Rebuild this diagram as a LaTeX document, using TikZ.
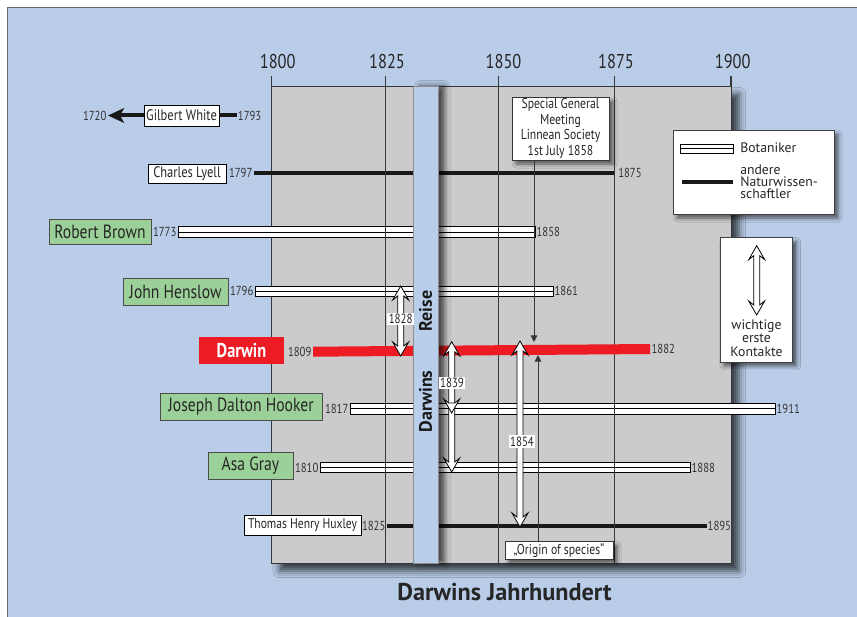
\documentclass[tikz,border=0pt]{standalone}
\usepackage{fontspec}
\setmainfont{PT Sans}
\newfontfamily\cf[FakeStretch=0.82]{PT Sans}
\usetikzlibrary{arrows.meta,shadows.blur}
\definecolor{bgblue}{RGB}{185,205,233}
\definecolor{boxgray}{RGB}{203,202,204}
\definecolor{namegreen}{RGB}{155,208,152}
\definecolor{dred}{RGB}{237,28,36}
\definecolor{reiseblue}{RGB}{184,206,234}
\definecolor{linegray}{RGB}{55,55,55}
\definecolor{framegray}{RGB}{105,105,105}
\newcommand\hollowarrow[3]{%
  \draw[harrow] (#1,#2) -- ++(8,14) -- ++(-5,-4) -- (#1+3,#3-10) -- ++(5,-4) -- (#1,#3)
    -- ++(-8,-14) -- ++(5,4) -- (#1-3,#2+10) -- ++(-5,4) -- cycle;}
\newcommand\downhead[2]{%
  \draw[harrow] (#1,#2) -- ++(8,-14) -- ++(-5,4) -- ++(-6,0) -- ++(-5,-4) -- cycle;}
\begin{document}
\begin{tikzpicture}[x=0.75pt,y=-0.75pt,
  tick/.style={draw=linegray, line width=0.8pt},
  ticklabel/.style={font=\cf\fontsize{15}{15}\selectfont, text=black!85, inner sep=0pt},
  yr/.style={font=\cf\fontsize{9.8}{10}\selectfont, text=black!80, inner sep=1pt},
  namebox/.style={draw=black!70, line width=0.6pt, fill=namegreen, inner sep=0pt,
    font=\cf\fontsize{14.3}{15}\selectfont, text=black!85},
  wbox/.style={draw=black, line width=0.6pt, fill=white, inner sep=0pt,
    font=\cf\fontsize{11.4}{12}\selectfont, text=black!85},
  botbar/.style={draw=black, line width=0.6pt, fill=white},
  blackbar/.style={draw=black!90, line width=3.4pt},
  harrow/.style={draw=black, line width=0.6pt, fill=white, line join=miter},
  arrlabel/.style={fill=white, inner sep=1pt, font=\cf\fontsize{10}{10}\selectfont, text=black!85},
  note/.style={draw=linegray, line width=0.6pt, fill=white, inner sep=0pt,
    blur shadow={shadow xshift=3pt, shadow yshift=-3pt, shadow blur radius=3pt, shadow opacity=60}},
  thinarrow/.style={draw=linegray, line width=0.7pt, -{Triangle[length=5pt,width=5pt]}},
  gridline/.style={draw=linegray, line width=0.7pt}]
\useasboundingbox (0,0) rectangle (857,617);
\fill[white] (0,0) rectangle (857,617);
\fill[bgblue] (7,7) rectangle (857,617);
\draw[framegray, line width=1.1pt] (7.5,617) -- (7.5,7.5) -- (857,7.5);

% axis labels and short ticks
\foreach \x/\lx/\yr in {271.5/277.7/1800, 385.5/387/1825, 498.5/503.5/1850, 614.5/616/1875, 731/732.7/1900}{
  \node[ticklabel] (t\yr) at (\lx,62) {\yr};
  \draw[tick] (\x,76) -- (\x,86);
}

% grey field
\fill[boxgray, draw=linegray, line width=0.7pt,
  blur shadow={shadow xshift=6pt, shadow yshift=-6pt, shadow blur radius=5pt, shadow opacity=70}]
  (271.5,86) rectangle (731,563);

% ---- bars ----
% Gilbert White
\node[wbox, minimum width=56.25pt, minimum height=15.75pt] (gw) at (181.5,115.5) {Gilbert White};
\coordinate (gwl) at (108,115.5);
\coordinate (gwr) at (237,115.5);
\draw[black!90, line width=3pt, -{Stealth[length=12pt,width=11pt,inset=3pt]}] (gw.west) -- (gwl);
\draw[black!90, line width=3pt] (gw.east) -- (gwr);
\node[yr, anchor=east] (y1720) at (gwl) {1720};
\node[yr, anchor=west, inner sep=0.5pt] (y1793) at (gwr) {1793};

% Charles Lyell
\node[wbox, minimum width=58.5pt, minimum height=14.25pt] (cl) at (187,173.5) {Charles Lyell};
\coordinate (cl1) at (254,173); \coordinate (cl2) at (614,173);
\draw[blackbar] (cl1) -- (cl2);
\node[yr, anchor=east] (y1797) at (cl1) {1797};
\node[yr, anchor=west, xshift=2pt] (y1875) at (cl2) {1875};

% Robert Brown
\node[namebox, minimum width=76.5pt, minimum height=18.75pt] (rb) at (100,231.5) {Robert Brown};
\coordinate (rb1) at (178,232); \coordinate (rb2) at (535,232);
\draw[botbar] ([yshift=4.2pt]rb1) rectangle ([yshift=-4.2pt]rb2);
\draw[line width=0.6pt] (rb1) -- (rb2);
\node[yr, anchor=east] (y1773) at (rb1) {1773};
\node[yr, anchor=west] (y1858) at (rb2) {1858};

% John Henslow
\node[namebox, minimum width=78.75pt, minimum height=20.25pt] (jh) at (175.5,291.5) {John Henslow};
\coordinate (jh1) at (255,291.3); \coordinate (jh2) at (553,291.3);
\draw[botbar] ([yshift=4.0pt]jh1) rectangle ([yshift=-4.0pt]jh2);
\draw[line width=0.6pt] (jh1) -- (jh2);
\node[yr, anchor=east] (y1796) at (jh1) {1796};
\node[yr, anchor=west] (y1861) at (jh2) {1861};

% Joseph Dalton Hooker
\node[namebox, minimum width=121.5pt, minimum height=20.25pt] (hk) at (241,406.5) {Joseph Dalton Hooker};
\coordinate (hk1) at (350,408.5); \coordinate (hk2) at (775,408.5);
\draw[botbar] ([yshift=4.1pt]hk1) rectangle ([yshift=-4.1pt]hk2);
\draw[line width=0.6pt] (hk1) -- (hk2);
\node[yr, anchor=east] (y1817) at (hk1) {1817};
\node[yr, anchor=west] (y1911) at (hk2) {1911};

% Asa Gray
\node[namebox, minimum width=63.75pt, minimum height=20.25pt] (ag) at (250.5,465.5) {Asa Gray};
\coordinate (ag1) at (320,467.5); \coordinate (ag2) at (690,467.5);
\draw[botbar] ([yshift=3.9pt]ag1) rectangle ([yshift=-3.9pt]ag2);
\draw[line width=0.6pt] (ag1) -- (ag2);
\node[yr, anchor=east] (y1810) at (ag1) {1810};
\node[yr, anchor=west] (y1888) at (ag2) {1888};

% Thomas Henry Huxley
\node[wbox, minimum width=87.75pt, minimum height=15pt, font=\cf\fontsize{10.6}{11}\selectfont] (th) at (302.5,525) {Thomas Henry Huxley};
\coordinate (th1) at (387,526); \coordinate (th2) at (707,526);
\draw[blackbar] (th1) -- (th2);
\node[yr, anchor=east] (y1825) at (th1) {1825};
\node[yr, anchor=west, inner sep=0.3pt] (y1895) at (th2) {1895};

% grid lines over bars
\foreach \x in {385.5, 498.5, 614.5}{
  \draw[gridline] (\x,76) -- (\x,563);
}

% Darwin
\node[fill=dred, text=white, minimum width=63.75pt, minimum height=20.25pt, inner sep=0pt,
  font=\cf\bfseries\fontsize{15}{15}\selectfont] (dw) at (241.5,350.5) {Darwin};
\coordinate (dw1) at (313,351.7); \coordinate (dw2) at (650,349);
\fill[dred] ([yshift=3.75pt]dw1) -- ([yshift=3.75pt]dw2) -- ([yshift=-3.75pt]dw2) -- ([yshift=-3.75pt]dw1) -- cycle;
\node[yr, anchor=east] (y1809) at (dw1) {1809};
\node[yr, anchor=west] (y1882) at (dw2) {1882};

% Darwins Reise
\fill[reiseblue, draw=black!45, line width=0.5pt,
  blur shadow={shadow xshift=5pt, shadow yshift=0pt, shadow blur radius=4pt, shadow opacity=65}]
  (413,86) rectangle (438,563);
\node[rotate=90, font=\bfseries\fontsize{13.5}{14}\selectfont, text=black!90] (reise) at (425.5,311) {Reise};
\node[rotate=90, font=\bfseries\fontsize{13.5}{14}\selectfont, text=black!90] (darwins) at (425.5,401.5) {Darwins};

% Meeting note
\node[note, minimum width=72.75pt, minimum height=47.25pt, align=center,
  font=\cf\fontsize{10.7}{11.8}\selectfont, text=black!85] (meet) at (560.5,128.5)
  {Special General\\Meeting\\Linnean Society\\1st July 1858};
\coordinate (m2) at (534,342);
\draw[thinarrow] (meet.south -| m2) -- (m2);

% Origin of species
\node[note, minimum width=81pt, minimum height=13pt,
  font=\cf\fontsize{10.7}{11}\selectfont, text=black!85] (orig) at (559,550.3) {„Origin of species“};
\coordinate (o2) at (538,355);
\draw[thinarrow] (orig.north -| o2) -- (o2);

% contact arrows
\hollowarrow{400.7}{286}{356}
\node[arrlabel] (l1828) at (400.7,319) {1828};
\hollowarrow{451.7}{341.7}{472}
\downhead{451.7}{413}
\node[arrlabel] (l1839) at (452,383) {1839};
\hollowarrow{520}{341}{527}
\node[arrlabel] (l1854) at (522,441.5) {1854};

% legend 1
\node[note, draw=black!75, minimum width=120.75pt, minimum height=63pt] (leg1) at (753.5,172) {};
\coordinate (lb1) at (680,148.75); \coordinate (lb2) at (733,148.75);
\draw[botbar] ([yshift=3.5pt]lb1) rectangle ([yshift=-3.5pt]lb2);
\draw[line width=0.6pt] (lb1) -- (lb2);
\node[anchor=west, inner sep=0pt, font=\fontsize{10.3}{10}\selectfont, text=black!85] (lbt) at (740,148) {Botaniker};
\coordinate (ln1) at (682,182); \coordinate (ln2) at (733,182);
\draw[blackbar] (ln1) -- (ln2);
\node[anchor=west, inner sep=0pt, align=left, font=\fontsize{10.3}{9.1}\selectfont, text=black!85] (lnt) at (740,182)
  {andere\\Naturwissen-\\schaftler};

% legend 2
\node[note, draw=black!75, minimum width=54.5pt, minimum height=93.2pt] (leg2) at (756.3,299.8) {};
\hollowarrow{756.7}{245.7}{315}
\node[align=center, inner sep=0pt, font=\fontsize{10.3}{10}\selectfont, text=black!85] (kt) at (756.5,338)
  {wichtige\\erste\\Kontakte};

% title
\node[font=\bfseries\fontsize{18.2}{19}\selectfont, text=black!85] (title) at (504.5,592) {Darwins Jahrhundert};
\end{tikzpicture}
\end{document}
